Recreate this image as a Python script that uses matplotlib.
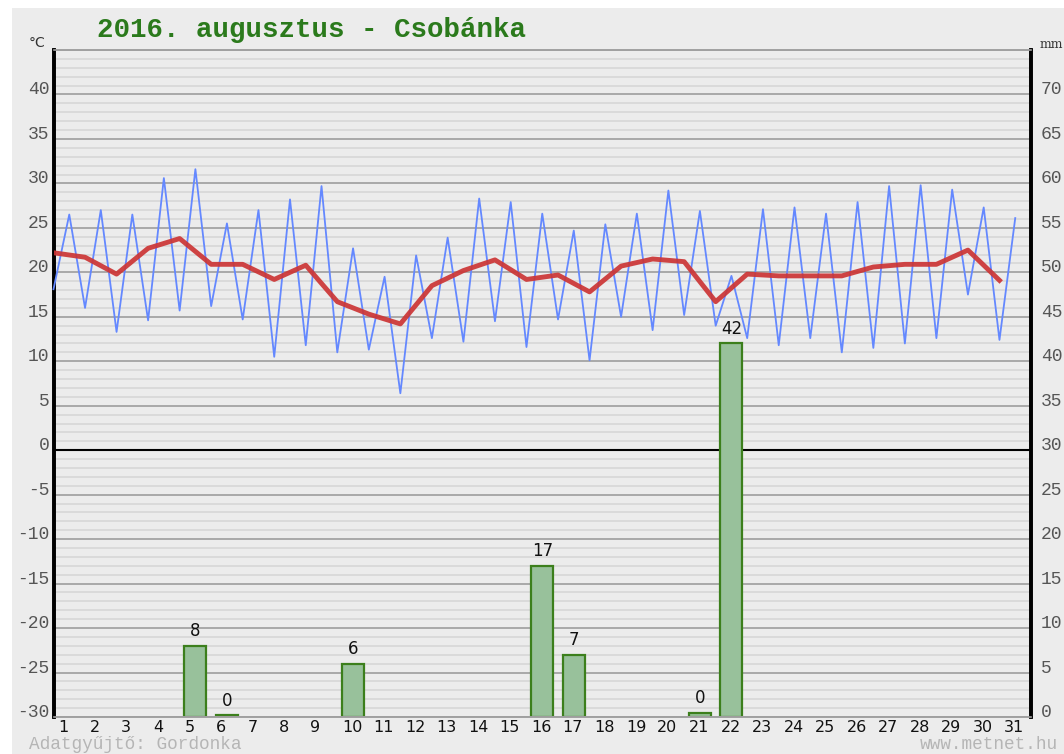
import matplotlib
matplotlib.use("Agg")
import matplotlib.pyplot as plt
from matplotlib.patches import Rectangle
import numpy as np

# ---- data ----
days = list(range(1, 32))
t_min = [18.1, 16.0, 13.3, 14.6, 15.7, 16.2, 14.7, 10.5, 11.8, 11.0, 11.3, 6.4,
         12.6, 12.2, 14.5, 11.6, 14.7, 10.1, 15.0, 13.5, 15.2, 14.0, 12.6, 11.8,
         12.6, 11.0, 11.5, 12.0, 12.6, 17.5, 12.4]
t_max = [26.5, 27.0, 26.5, 30.6, 31.6, 25.5, 27.0, 28.2, 29.7, 22.7, 19.5, 21.9,
         23.9, 28.3, 27.9, 26.6, 24.7, 25.4, 26.6, 29.2, 26.9, 19.6, 27.1, 27.3,
         26.6, 27.9, 29.7, 29.8, 29.3, 27.3, 26.1]
t_mean = [22.2, 21.7, 19.8, 22.7, 23.8, 20.9, 20.9, 19.2, 20.8, 16.7, 15.3, 14.2,
          18.5, 20.2, 21.4, 19.2, 19.7, 17.8, 20.7, 21.5, 21.2, 16.7, 19.8, 19.6,
          19.6, 19.6, 20.6, 20.9, 20.9, 22.5, 19.1]
rain_days = [5, 6, 10, 16, 17, 21, 22]
rain_mm = [8, 0.2, 6, 17, 7, 0.5, 42]
temp_ticks = list(range(-30, 45, 5))
mm_ticks = list(range(0, 75, 5))
title = "2016. augusztus - Csobánka"
footer_left = "Adatgyűjtő: Gordonka"
footer_right = "www.metnet.hu"

W, H = 1064, 754
BG = "#ececec"
fig = plt.figure(figsize=(W / 100, H / 100), dpi=100, facecolor="white")
fig.patches.append(Rectangle((12 / W, 0), 1 - 12 / W, 1 - 8 / H,
                             transform=fig.transFigure, facecolor=BG,
                             edgecolor="none", zorder=-10))

left, right = 53.5 / W, 1031 / W
bottom, top = (H - 717) / H, (H - 50) / H
ax2 = fig.add_axes([left, bottom, right - left, top - bottom])  # mm / background
ax = fig.add_axes([left, bottom, right - left, top - bottom], sharex=ax2)  # temperature

ax2.set_zorder(1)
ax.set_zorder(2)
ax.patch.set_visible(False)
ax2.set_facecolor(BG)

ax2.set_xlim(0.5, 31.5)
ax2.set_ylim(0, 75)
ax.set_ylim(-30, 45)

# grid on background axes
for v in np.arange(0, 76, 1):
    if v % 5 == 0:
        ax2.axhline(v, color="#a3a3a3", lw=1.3, zorder=0.5)
    else:
        ax2.axhline(v, color="#d9d9d9", lw=1.3, zorder=0.4)
ax2.axhline(30, color="black", lw=1.5, zorder=0.6)

# bars
bw = 0.7
ax2.bar(rain_days, rain_mm, width=bw, color="#98c19b", edgecolor="#3c7f1c",
        linewidth=1.6, zorder=2)
for d, v in zip(rain_days, rain_mm):
    ax2.annotate(f"{v:.0f}", (d, v), xytext=(0, 4), textcoords="offset points",
                 ha="center", va="bottom", fontsize=12, color="#111111",
                 family="DejaVu Sans")

# temperature lines
xs, ys = [], []
for d, lo, hi in zip(days, t_min, t_max):
    xs += [d - 0.5, d]
    ys += [lo, hi]
ax.plot(xs, ys, color="#6488ff", lw=1.3, zorder=3, clip_on=False)
ax.plot([d - 0.5 for d in days], t_mean, color="#cc3535", lw=3.5, alpha=0.92,
        zorder=4, solid_joinstyle="round")

# spines
for a in (ax, ax2):
    for s in ("top", "bottom"):
        a.spines[s].set_color("#a0a0a0")
        a.spines[s].set_linewidth(1.2)
    for s in ("left", "right"):
        a.spines[s].set_color("black")
        a.spines[s].set_linewidth(2.6)

# y ticks
mono = "Liberation Mono"
ax.yaxis.tick_left()
ax.set_yticks(temp_ticks)
ax.set_yticklabels([str(t) for t in temp_ticks], family=mono, fontsize=13,
                   color="#555555", va="baseline")
ax.tick_params(axis="y", length=0, pad=3)
ax2.yaxis.tick_right()
ax2.set_yticks(mm_ticks)
ax2.set_yticklabels([str(t) for t in mm_ticks], family=mono, fontsize=13,
                    color="#555555", va="baseline")
ax2.tick_params(axis="y", length=0, pad=7)

# x ticks (left-aligned at bar left edge)
ax.tick_params(axis="x", which="both", bottom=False, labelbottom=False)
ax2.set_xticks([d - bw / 2 for d in days])
ax2.set_xticklabels([str(d) for d in days], family="DejaVu Sans", fontsize=11.5,
                    color="#111111", ha="left")
ax2.tick_params(axis="x", length=0, pad=2.5)

# texts
fig.text(97 / W, 1 - 30 / H, title, family=mono, fontweight="bold", fontsize=19.8,
         color="#2b7a1c", ha="left", va="center")
fig.text(37 / W, 1 - 43 / H, "°C", family="DejaVu Sans", fontsize=10,
         color="#333333", ha="center", va="center")
fig.text(1051 / W, 1 - 44 / H, "mm", family="DejaVu Serif", fontsize=9,
         color="#333333", ha="center", va="center")
fig.text(29 / W, 1 - 744.5 / H, footer_left, family=mono, fontsize=12.8,
         color="#b5b5b5", ha="left", va="center")
fig.text(1058 / W, 1 - 744.5 / H, footer_right, family=mono, fontsize=12.8,
         color="#b5b5b5", ha="right", va="center")

fig.savefig("out.png", dpi=100, facecolor="white")
